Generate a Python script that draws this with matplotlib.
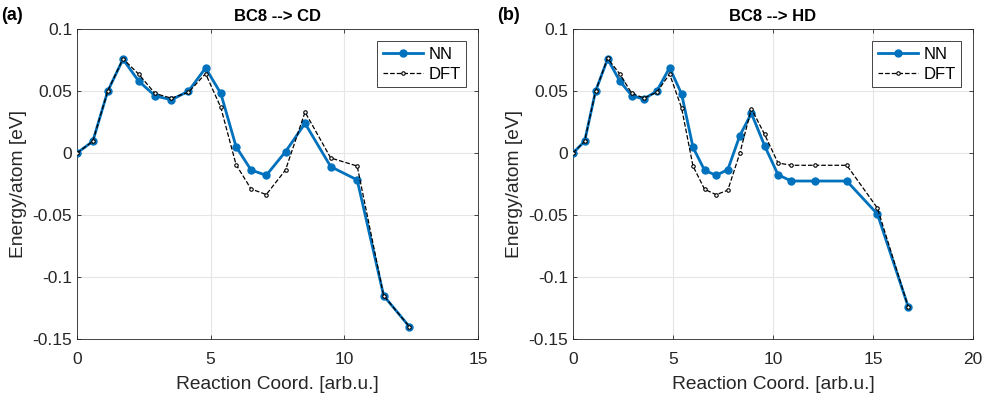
import matplotlib
matplotlib.use("Agg")
import matplotlib.pyplot as plt

plt.rcParams["font.family"] = ["Liberation Sans", "DejaVu Sans"]

# BC8 --> CD path
x_cd = [0, 0.59, 1.15, 1.72, 2.31, 2.92, 3.53, 4.17, 4.81, 5.38, 5.95, 6.51,
        7.08, 7.80, 8.53, 9.49, 10.48, 11.47, 12.43]
nn_cd = [0, 0.0094, 0.0499, 0.0756, 0.0579, 0.0461, 0.0429, 0.0499, 0.0686,
         0.048, 0.0051, -0.0137, -0.018, 0.0011, 0.0239, -0.011, -0.0217,
         -0.115, -0.140]
dft_cd = [0, 0.0094, 0.05, 0.076, 0.0635, 0.048, 0.0442, 0.049, 0.064,
          0.0367, -0.0094, -0.029, -0.0335, -0.0137, 0.033, -0.004, -0.0105,
          -0.115, -0.140]

# BC8 --> HD path
x_hd = [0, 0.58, 1.13, 1.73, 2.34, 2.94, 3.55, 4.19, 4.83, 5.43, 6.0, 6.58,
        7.16, 7.74, 8.34, 8.92, 9.58, 10.25, 10.91, 12.11, 13.69, 15.22, 16.76]
nn_hd = [0, 0.0094, 0.05, 0.0758, 0.058, 0.0462, 0.0435, 0.05, 0.0688, 0.0476,
         0.0046, -0.014, -0.018, -0.0134, 0.014, 0.032, 0.0059, -0.0175,
         -0.0226, -0.0226, -0.0226, -0.0492, -0.124]
dft_hd = [0, 0.0094, 0.05, 0.0763, 0.0637, 0.048, 0.0444, 0.049, 0.0637,
          0.0363, -0.0105, -0.0293, -0.0336, -0.030, -0.0003, 0.0358, 0.015,
          -0.008, -0.0099, -0.0099, -0.0099, -0.0444, -0.124]

panels = [
    ("(a)", "BC8 --> CD", x_cd, nn_cd, dft_cd, [0, 5, 10, 15]),
    ("(b)", "BC8 --> HD", x_hd, nn_hd, dft_hd, [0, 5, 10, 15, 20]),
]

fig = plt.figure(figsize=(9.92, 3.96), dpi=100)
W, H = 992, 396
boxes = [(77, 478), (573, 973)]
top, bottom = 29, 339

for (tag, title, x, nn, dft, xt), (x0, x1) in zip(panels, boxes):
    ax = fig.add_axes([x0 / W, 1 - bottom / H, (x1 - x0) / W, (bottom - top) / H])
    ax.plot(x, nn, "-o", color="#0072BD", lw=2, ms=5, label="NN", zorder=3)
    ax.plot(x, dft, "--o", color="black", lw=0.9, ms=2.5, mfc="white",
            mew=0.8, label="DFT", zorder=4)
    ax.set_xlim(xt[0], xt[-1])
    ax.set_ylim(-0.15, 0.1)
    ax.set_xticks(xt)
    ax.set_yticks([-0.15, -0.1, -0.05, 0, 0.05, 0.1])
    ax.set_yticklabels(["-0.15", "-0.1", "-0.05", "0", "0.05", "0.1"])
    ax.grid(True, color="#e6e6e6", lw=0.8)
    ax.set_axisbelow(True)
    for s in ax.spines.values():
        s.set_color("#262626")
        s.set_linewidth(0.6)
    ax.tick_params(direction="in", length=3, width=0.6, labelsize=12.5,
                   colors="#262626", top=True, right=True,
                   labeltop=False, labelright=False)
    ax.tick_params(axis="x", pad=9)
    ax.set_title(title, fontsize=12, fontweight="bold", pad=6)
    ax.set_xlabel("Reaction Coord. [arb.u.]", fontsize=13.8, color="#262626",
                  labelpad=7)
    ax.set_ylabel("Energy/atom [eV]", fontsize=13.8, color="#262626")
    leg = ax.legend(loc="upper right", fontsize=12, fancybox=False,
                    framealpha=1, edgecolor="#262626", handlelength=2.4,
                    handletextpad=0.3, borderpad=0.35, labelspacing=0.3,
                    borderaxespad=0.7)
    leg.get_frame().set_linewidth(0.6)
    fig.text((x0 - 76) / W, 1 - 15 / H, tag, fontsize=13, fontweight="bold",
             va="center", ha="left")

plt.savefig("out.png", dpi=100)
